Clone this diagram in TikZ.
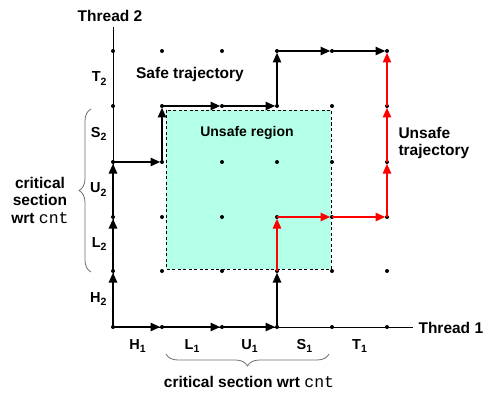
\documentclass[tikz,border=0pt]{standalone}
\usepackage{fontspec}
\setmainfont{Liberation Sans}
\setmonofont{Liberation Mono}
\usetikzlibrary{arrows.meta,decorations.pathreplacing}
\definecolor{unsafecol}{RGB}{180,255,232}
\definecolor{bracecol}{RGB}{110,110,110}
\newcommand{\lab}[2]{#1\raisebox{-0.4ex}{\fontsize{10.5}{11}\selectfont #2}}
\newcommand{\cnt}{{\mdseries\ttfamily\fontsize{16.5}{17.5}\selectfont cnt}}
\begin{document}
\begin{tikzpicture}[x=1pt,y=-1pt,font=\fontsize{15.5}{17.5}\selectfont\bfseries,line join=round,
	>={Triangle[length=10pt,width=8pt]},
	seg/.style={->,line width=2.8pt,shorten >=1.5pt},
	redseg/.style={seg,red},
	ticklab/.style={font=\fontsize{14.5}{16}\selectfont\bfseries},
	curly/.style={bracecol,line width=0.8pt,decorate,decoration={brace,amplitude=12pt}}]
	\useasboundingbox (0,0) rectangle (495,401);
	\foreach \x [count=\i from 0] in {113,162,222,277,332,387}
		\foreach \y [count=\j from 0] in {327,271,217,162,106,51}
			\coordinate (p\i\j) at (\x,\y);
	\fill[unsafecol] (166,110) rectangle (331,269);
	\draw[dash pattern=on 3pt off 2.5pt,line width=0.8pt] (166,110) rectangle (331,269);
	\coordinate (xend) at (413,327); \coordinate (yend) at (113,27);
	\draw[line width=1pt] (yend)--(p00)--(xend);
	\node[anchor=west] (thr1) at (415,328) {Thread 1};
	\node (thr2) at (110,16) {Thread 2};
	\foreach \i in {0,...,5} \foreach \j in {0,...,5} \fill (p\i\j) circle (2pt);
	% labels on the axes
	\foreach \n/\x in {H/137.5,L/192,U/249.5,S/304.5,T/359.5} \node[ticklab] (\n1) at (\x,346) {\lab{\n}{1}};
	\foreach \n/\y in {H/299,L/244,U/189.5,S/134,T/78.5} \node[ticklab,anchor=east] (\n2) at (110,\y) {\lab{\n}{2}};
	% safe trajectory
	\draw[seg] (p00)--(p10); \draw[seg] (p10)--(p20); \draw[seg] (p20)--(p30);
	\draw[seg] (p00)--(p01); \draw[seg] (p01)--(p02); \draw[seg] (p02)--(p03);
	\draw[seg] (p03)--(p13); \draw[seg] (p13)--(p14); \draw[seg] (p14)--(p24); \draw[seg] (p24)--(p34);
	\draw[seg] (p34)--(p35); \draw[seg] (p35)--(p45); \draw[seg] (p45)--(p55);
	\draw[seg] (p30)--(p31);
	% unsafe trajectory
	\draw[redseg] (p31)--(p32); \draw[redseg] (p32)--(p42); \draw[redseg] (p42)--(p52);
	\draw[redseg] (p52)--(p53); \draw[redseg] (p53)--(p54); \draw[redseg] (p54)--(p55);
	\node (safe) at (190,74) {Safe trajectory};
	\node[font=\fontsize{14}{16}\selectfont\bfseries] (region) at (247,133) {Unsafe region};
	\node[anchor=west,align=left] (unsafe) at (395,143) {Unsafe\\trajectory};
	\coordinate (bl) at (91,272); \coordinate (tl) at (91,109);
	\coordinate (lb) at (166,354); \coordinate (rb) at (329,354);
	\draw[curly] (bl)--(tl); \draw[curly] (rb)--(lb);
	\node[align=center] (csv) at (40,200) {critical\\section\\wrt \cnt};
	\node (csh) at (249,382) {critical section wrt \cnt};
\end{tikzpicture}
\end{document}
